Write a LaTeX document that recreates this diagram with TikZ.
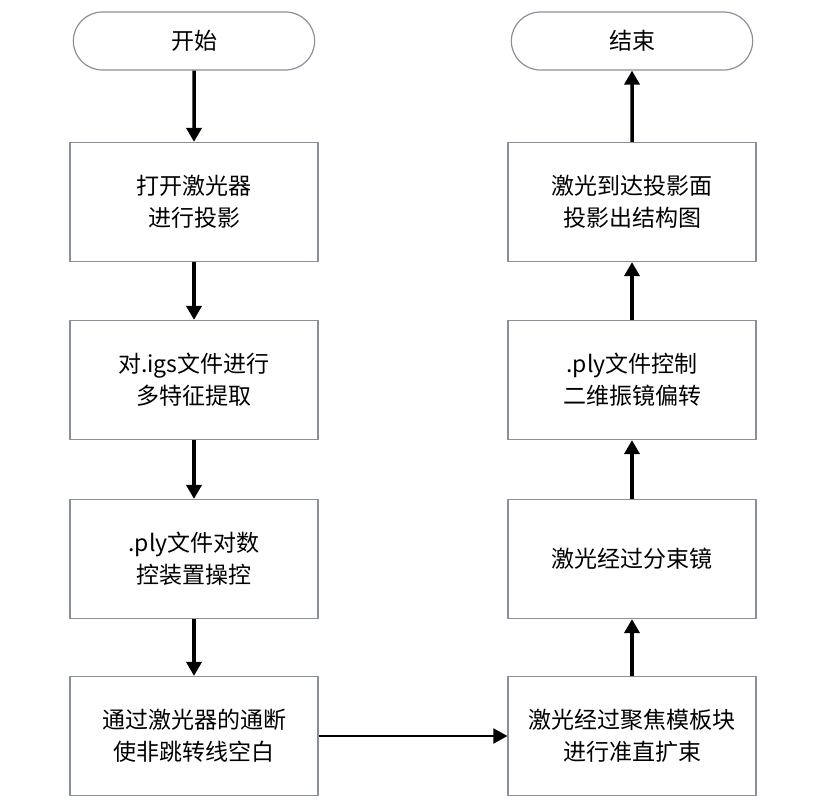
\documentclass[tikz,border=0pt]{standalone}
\usepackage{fontspec}
\setmainfont{Liberation Serif}
\newfontfamily\cjk{Noto Sans CJK SC}
\usetikzlibrary{arrows.meta,shapes.misc}
\definecolor{edge}{HTML}{8A9099}
\begin{document}
\begin{tikzpicture}[x=1pt,y=-1pt,
  box/.style={draw=edge,line width=1.2pt,minimum width=248pt,minimum height=119pt,align=center,font=\fontsize{23}{32}\selectfont\cjk},
  term/.style={box,rounded rectangle,minimum height=58pt},
  flow/.style={line width=3.5pt,-{Triangle[length=14pt,width=15pt]}}]
\useasboundingbox (0,0) rectangle (826,800);
\node[term] (start) at (194,41) {开始};
\node[box] (laser) at (194,202) {打开激光器\\进行投影};
\node[box] (extract) at (194,380) {对.igs文件进行\\多特征提取};
\node[box] (cnc) at (194,559) {.ply文件对数\\控装置操控};
\node[box] (blank) at (194,736) {通过激光器的通断\\使非跳转线空白};
\node[box] (focus) at (632,736) {激光经过聚焦模板块\\进行准直扩束};
\node[box] (split) at (632,559) {激光经过分束镜};
\node[box] (galvo) at (632,380) {.ply文件控制\\二维振镜偏转};
\node[box] (proj) at (632,202) {激光到达投影面\\投影出结构图};
\node[term] (stop) at (632,41) {结束};
\draw[flow] (start) -- (laser);
\draw[flow] (laser) -- (extract);
\draw[flow] (extract) -- (cnc);
\draw[flow] (cnc) -- (blank);
\draw[flow,line width=2pt] (blank) -- (focus);
\draw[flow] (focus) -- (split);
\draw[flow] (split) -- (galvo);
\draw[flow] (galvo) -- (proj);
\draw[flow] (proj) -- (stop);
\end{tikzpicture}
\end{document}
